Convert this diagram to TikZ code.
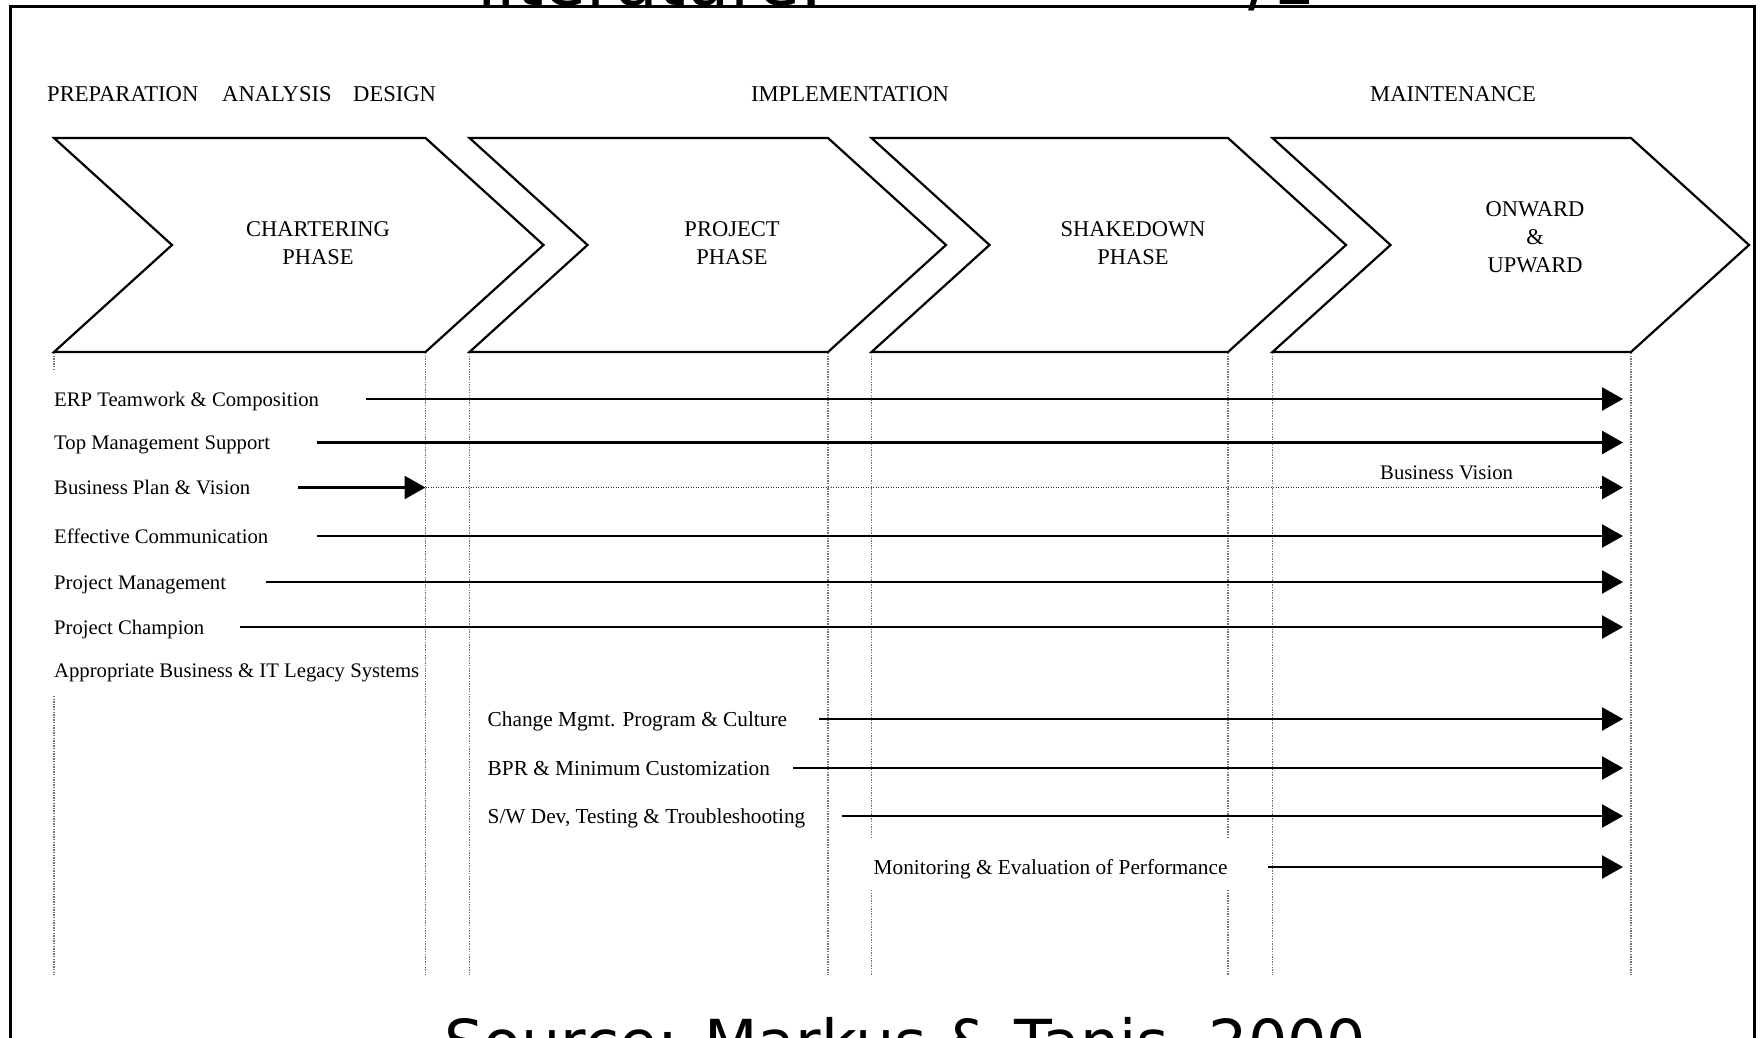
\documentclass[tikz,border=0pt]{standalone}
\usepackage{fontspec}
\setmainfont{Liberation Serif}
\newfontfamily\slidefont{DejaVu Sans}
\usetikzlibrary{arrows.meta}

\begin{document}
\begin{tikzpicture}[x=1pt,y=-1pt,
  phasebox/.style={draw=black, line width=2.2pt, line join=miter},
  guide/.style={draw=black!55, line width=1.1pt, dash pattern=on 1.3pt off 1.3pt},
  factor/.style={anchor=base west, inner sep=0pt, font=\fontsize{20.7}{25}\selectfont},
  latefactor/.style={factor, font=\fontsize{21.3}{25}\selectfont},
  header/.style={anchor=base, inner sep=0pt, font=\fontsize{22.6}{26}\selectfont},
  phaselabel/.style={align=center, inner sep=0pt, font=\fontsize{22.5}{28}\selectfont},
  flow/.style={draw=black, line width=2.6pt, -{Triangle[length=21pt,width=23pt]}},
  vision/.style={draw=black!80, line width=1.8pt, dash pattern=on 1.4pt off 1.1pt},
  slidetext/.style={anchor=base west, inner sep=0pt, font=\slidefont\fontsize{#1}{#1}\selectfont},
]
\useasboundingbox (0,0) rectangle (1761,1038);
\clip (0,0) rectangle (1761,1038);
\fill[white] (0,0) rectangle (1761,1038);

% slide title and source line, both running past the edges
\node[slidetext=70] (title) at (477,6) {literature.};
\node[slidetext=70] (titlenum) at (1248,5) {/1};
\node[slidetext=62] (source) at (444,1064) {Source: Markus \& Tanis, 2000};

% slide frame
\draw[line width=3pt] (10,1100) -- (10,6.5) -- (1754,6.5) -- (1754,1100);

% stage headings
\node[header, anchor=base west] (hprep) at (47,101.5) {PREPARATION};
\node[header, anchor=base west] (hana) at (222,101.5) {ANALYSIS};
\node[header, anchor=base west] (hdes) at (353,101.5) {DESIGN};
\node[header] (himp) at (850,101.5) {IMPLEMENTATION};
\node[header] (hmai) at (1453,101.5) {MAINTENANCE};

% phase chevrons: left edge, right edge, depth 118
\foreach \L/\R in {54/425.5, 469.5/828, 871.5/1228, 1272.5/1631}{
  \draw[phasebox] (\L,138) -- (\R,138) -- (\R+118,245) -- (\R,352)
                  -- (\L,352) -- (\L+118,245) -- cycle;
}
\node[phaselabel] (p1) at (318,243) {CHARTERING\\PHASE};
\node[phaselabel] (p2) at (732,243) {PROJECT\\PHASE};
\node[phaselabel] (p3) at (1133,243) {SHAKEDOWN\\PHASE};
\node[phaselabel] (p4) at (1535,237) {ONWARD\\\&\\UPWARD};

% dotted phase boundaries
\draw[guide] (54,353) -- (54,371);
\draw[guide] (54,696) -- (54,975);
\foreach \X in {425.5, 469.5, 828, 1272.5, 1631}{
  \draw[guide] (\X,353) -- (\X,975);
}
\foreach \X in {871.5, 1228}{
  \draw[guide] (\X,353) -- (\X,838);
  \draw[guide] (\X,890) -- (\X,975);
}

% critical success factors
\node[factor] (erp) at (54,406) {ERP Teamwork \& Composition};
\node[factor] (tms) at (54,449.5) {Top Management Support};
\node[factor] (bpv) at (54,494.5) {Business Plan \& Vision};
\node[factor] (eco) at (54,543) {Effective Communication};
\node[factor] (pjm) at (54,589) {Project Management};
\node[factor] (pjc) at (54,634) {Project Champion};
\node[factor] (abl) at (54,677.5) {Appropriate Business \& IT Legacy Systems};
\node[latefactor] (cmp) at (487.5,726) {Change Mgmt. Program \& Culture};
\node[latefactor] (bpr) at (487.5,775) {BPR \& Minimum Customization};
\node[latefactor] (swd) at (487.5,823) {S/W Dev, Testing \& Troubleshooting};
\node[latefactor] (mep) at (873.5,874) {Monitoring \& Evaluation of Performance};
\node[factor] (bvl) at (1380,479) {Business Vision};

% arrow end points
\coordinate (erp-s) at (366,399);   \coordinate (erp-e) at (1623,399);
\coordinate (tms-s) at (317,442.5); \coordinate (tms-e) at (1623,442.5);
\coordinate (bpv-s) at (298,487.5); \coordinate (bpv-m) at (425.5,487.5);
\coordinate (bpv-h) at (1600,487.5); \coordinate (bpv-e) at (1623,487.5);
\coordinate (eco-s) at (317,536);   \coordinate (eco-e) at (1623,536);
\coordinate (pjm-s) at (266,582);   \coordinate (pjm-e) at (1623,582);
\coordinate (pjc-s) at (240,627);   \coordinate (pjc-e) at (1623,627);
\coordinate (cmp-s) at (819,719);   \coordinate (cmp-e) at (1623,719);
\coordinate (bpr-s) at (793,768);   \coordinate (bpr-e) at (1623,768);
\coordinate (swd-s) at (842,816);   \coordinate (swd-e) at (1623,816);
\coordinate (mep-s) at (1268,867);  \coordinate (mep-e) at (1623,867);

\draw[flow] (erp-s) -- (erp-e);
\draw[flow] (tms-s) -- (tms-e);
\draw[flow] (bpv-s) -- (bpv-m);
\draw[vision] (bpv-m) -- (bpv-h);
\draw[flow] (bpv-h) -- (bpv-e);
\draw[flow] (eco-s) -- (eco-e);
\draw[flow] (pjm-s) -- (pjm-e);
\draw[flow] (pjc-s) -- (pjc-e);
\draw[flow] (cmp-s) -- (cmp-e);
\draw[flow] (bpr-s) -- (bpr-e);
\draw[flow] (swd-s) -- (swd-e);
\draw[flow] (mep-s) -- (mep-e);
\end{tikzpicture}
\end{document}
